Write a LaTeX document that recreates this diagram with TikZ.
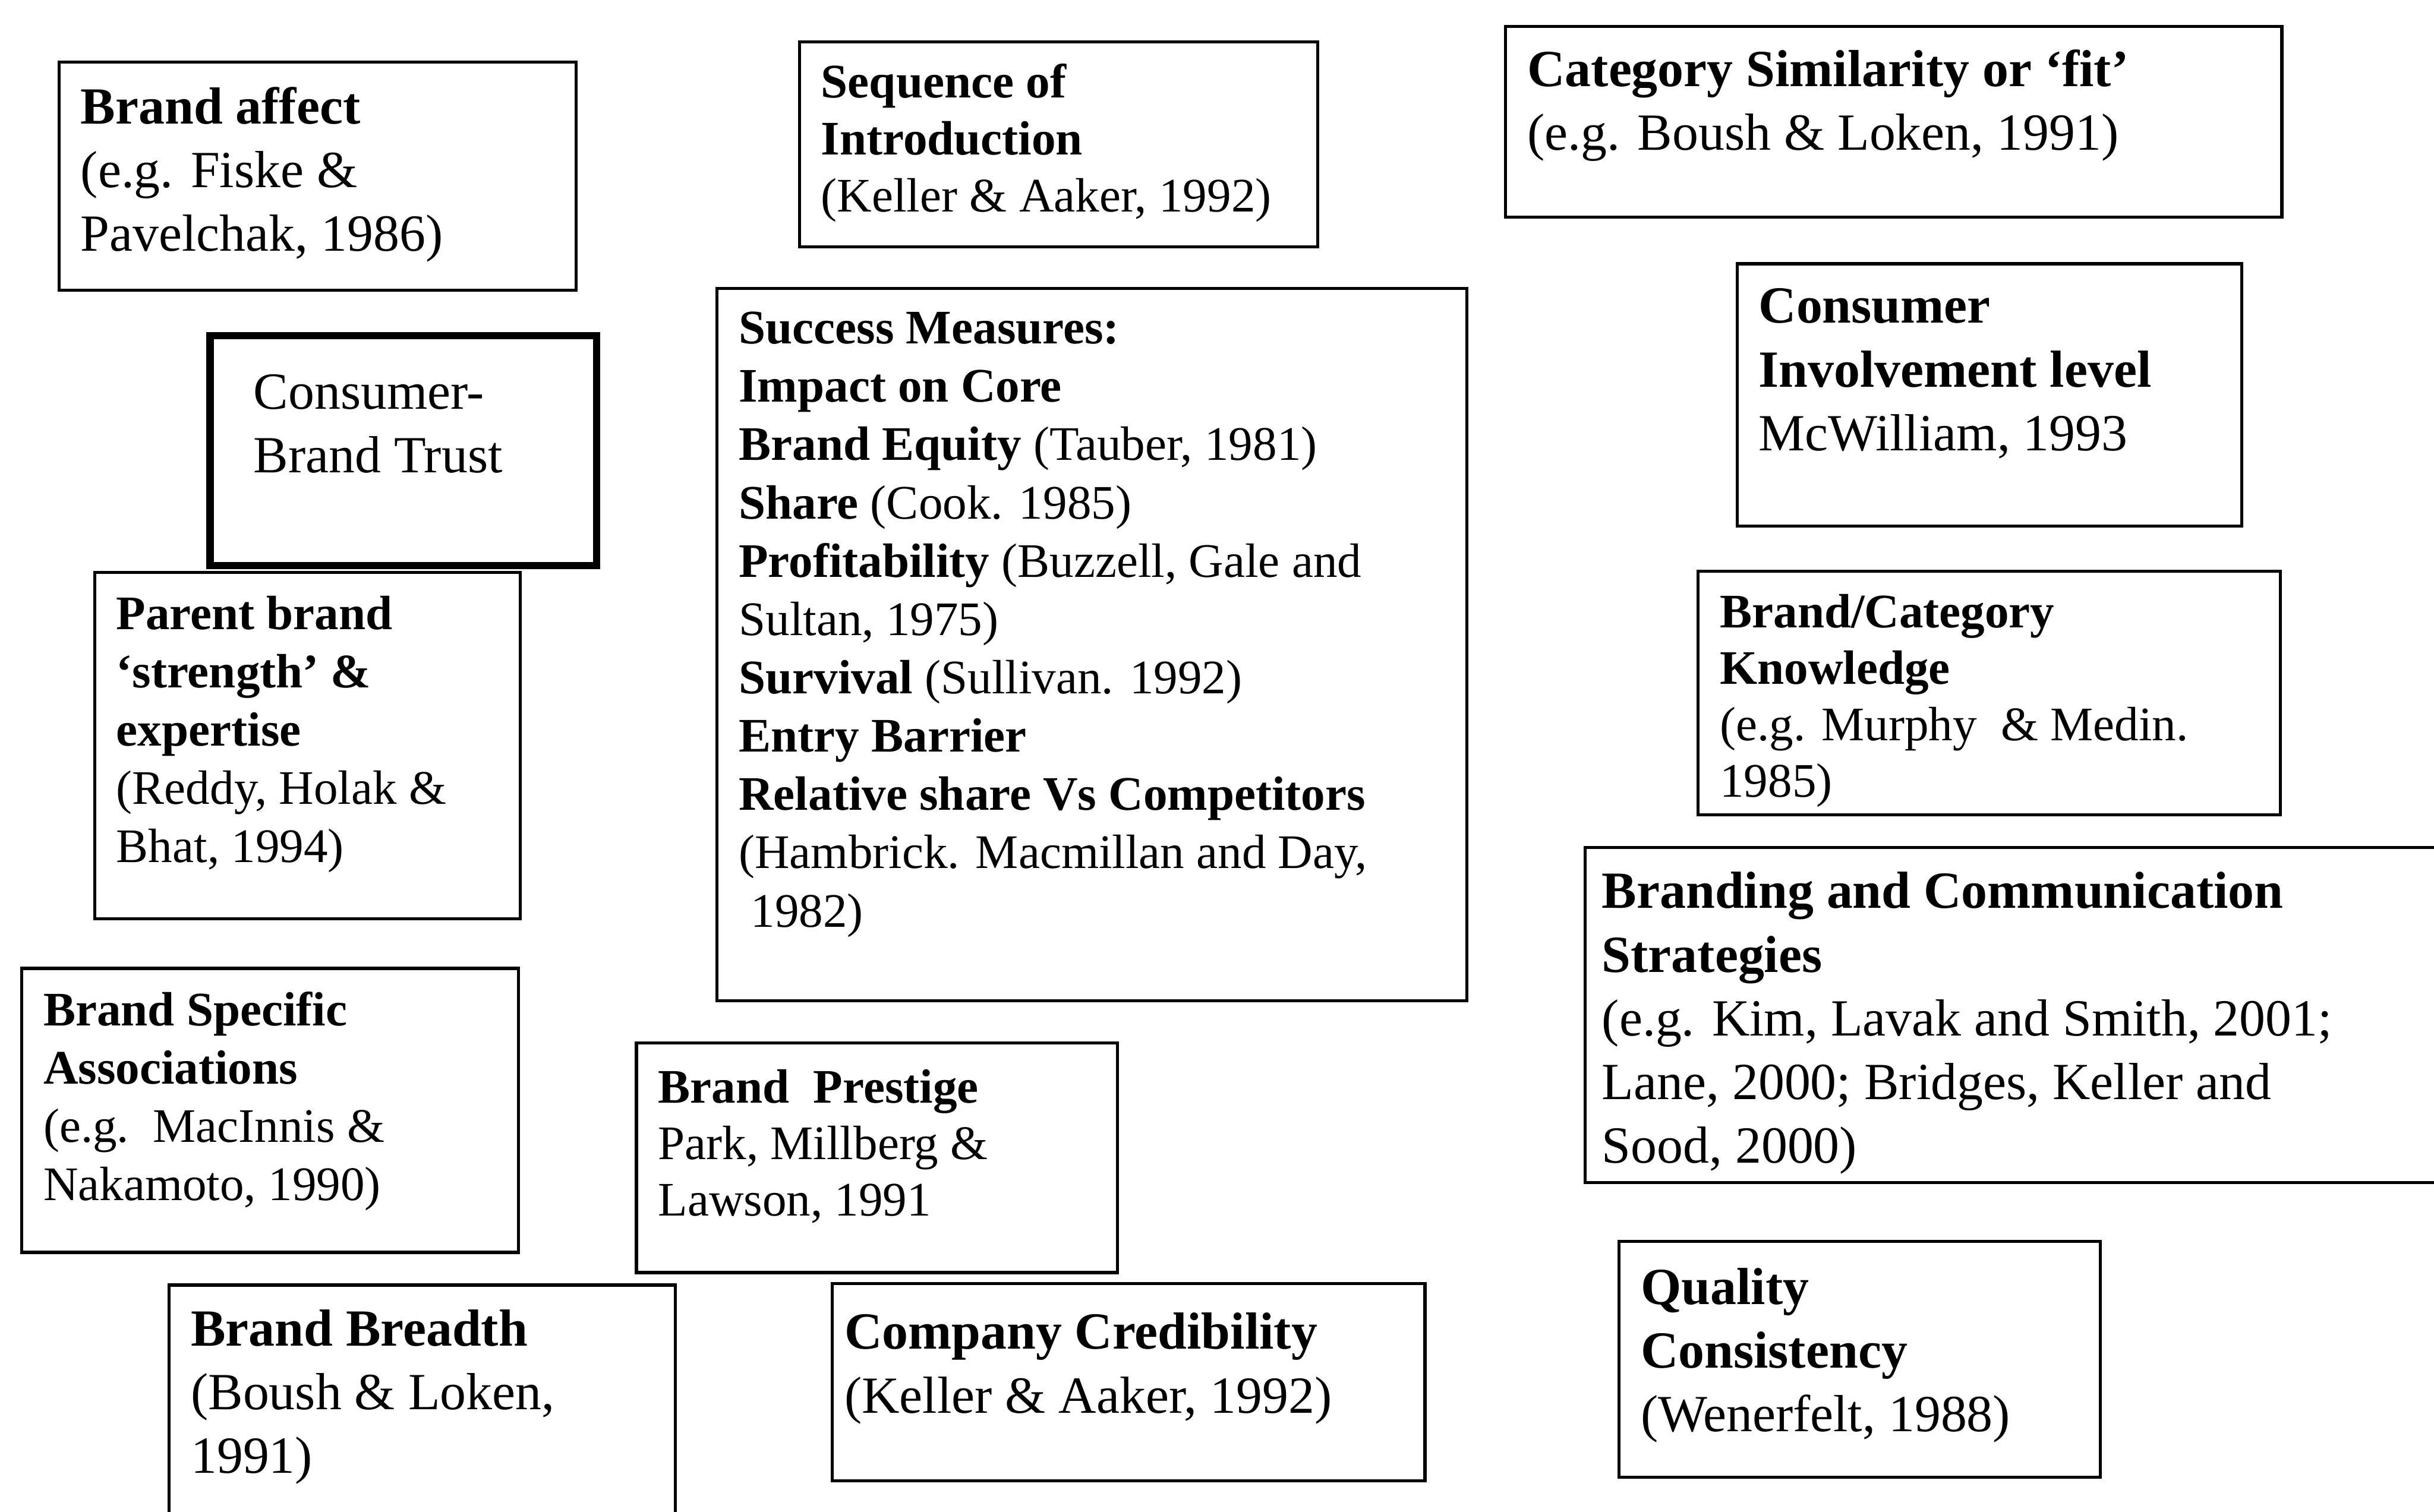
\documentclass[tikz,border=0pt]{standalone}
\usepackage{fontspec}
\setmainfont{Liberation Serif}
\newlength{\pxu}
\setlength{\pxu}{0.01778cm}
\newcommand{\bigtxt}{\fontsize{17}{20.75}\selectfont}
\newcommand{\smalltxt}{\fontsize{15.7}{19}\selectfont}
\newcommand{\tighttxt}{\fontsize{15.7}{18.4}\selectfont}
\begin{document}
\begin{tikzpicture}[x=0.01778cm, y=-0.01778cm,
    factor/.style={draw, line width=1pt, anchor=north west, inner xsep=14*\pxu, inner ysep=17*\pxu, font=\bigtxt},
    smallfont/.style={font=\smalltxt}]
  \path[use as bounding box, fill=white] (0,0) rectangle (1568,974);

  % left column
  \node[factor, inner ysep=16*\pxu] (affect) at (37,39) {\parbox[t][115\pxu][t]{305\pxu}{\raggedright
    \textbf{Brand affect}\\(e.g. Fiske \&\\Pavelchak, 1986)}};
  \node[factor, line width=2.4pt, inner xsep=28*\pxu, inner ysep=25*\pxu] (trust) at (133,214) {\parbox[t][98\pxu][t]{193\pxu}{\raggedright
    Consumer-\\Brand Trust}};
  \node[factor, smallfont, inner ysep=15*\pxu] (parent) at (60,368) {\parbox[t][193\pxu][t]{246\pxu}{\raggedright
    \textbf{Parent brand}\\\textbf{`strength' \&}\\\textbf{expertise}\\(Reddy, Holak \&\\Bhat, 1994)}};
  \node[factor, smallfont, inner ysep=15*\pxu] (specific) at (13,623) {\parbox[t][153\pxu][t]{292\pxu}{\raggedright
    \textbf{Brand Specific}\\\textbf{Associations}\\(e.g.\ \ MacInnis \&\\Nakamoto, 1990)}};
  \node[factor, inner ysep=16*\pxu] (breadth) at (108,827) {\parbox[t][138\pxu][t]{298\pxu}{\raggedright
    \textbf{Brand Breadth}\\(Boush \& Loken,\\1991)}};

  % middle column
  \node[factor, font=\fontsize{15.7}{18.6}\selectfont, inner ysep=14*\pxu] (sequence) at (514,26) {\parbox[t][104\pxu][t]{306\pxu}{\raggedright
    \textbf{Sequence of}\\\textbf{Introduction}\\(Keller \& Aaker, 1992)}};
  \node[factor, smallfont, inner ysep=15*\pxu] (success) at (461,185) {\parbox[t][429\pxu][t]{455\pxu}{\raggedright
    \textbf{Success Measures:}\\
    \textbf{Impact on Core}\\
    \textbf{Brand Equity} (Tauber, 1981)\\
    \textbf{Share} (Cook. 1985)\\
    \textbf{Profitability} (Buzzell, Gale and\\
    Sultan, 1975)\\
    \textbf{Survival} (Sullivan. 1992)\\
    \textbf{Entry Barrier}\\
    \textbf{Relative share Vs Competitors}\\
    (Hambrick. Macmillan and Day,\\
    \ 1982)}};
  \node[factor, font=\tighttxt] (prestige) at (409,671) {\parbox[t][114\pxu][t]{282\pxu}{\raggedright
    \textbf{Brand\ \ Prestige}\\Park, Millberg \&\\Lawson, 1991}};
  \node[factor, inner xsep=8*\pxu, inner ysep=19*\pxu] (credib) at (535,826) {\parbox[t][89\pxu][t]{366\pxu}{\raggedright
    \textbf{Company Credibility}\\(Keller \& Aaker, 1992)}};

  % right column
  \node[factor, inner ysep=15*\pxu] (fit) at (969,16) {\parbox[t][93\pxu][t]{472\pxu}{\raggedright
    \textbf{Category Similarity or `fit'}\\(e.g. Boush \& Loken, 1991)}};
  \node[factor, inner ysep=16*\pxu] (involve) at (1118,169) {\parbox[t][137\pxu][t]{297\pxu}{\raggedright
    \textbf{Consumer}\\\textbf{Involvement level}\\McWilliam, 1993}};
  \node[factor, font=\tighttxt, inner ysep=15*\pxu] (knowledge) at (1093,367) {\parbox[t][127\pxu][t]{347\pxu}{\raggedright
    \textbf{Brand/Category}\\\textbf{Knowledge}\\(e.g. Murphy\ \ \& Medin.\\1985)}};
  \node[factor, inner xsep=11*\pxu, inner ysep=16*\pxu] (strategy) at (1020,545) {\parbox[t][184\pxu][t]{548\pxu}{\raggedright
    \textbf{Branding and Communication}\\\textbf{Strategies}\\(e.g. Kim, Lavak and Smith, 2001;\\Lane, 2000; Bridges, Keller and\\Sood, 2000)}};
  \node[factor] (quality) at (1042,799) {\parbox[t][118\pxu][t]{282\pxu}{\raggedright
    \textbf{Quality}\\\textbf{Consistency}\\(Wenerfelt, 1988)}};
\end{tikzpicture}
\end{document}
